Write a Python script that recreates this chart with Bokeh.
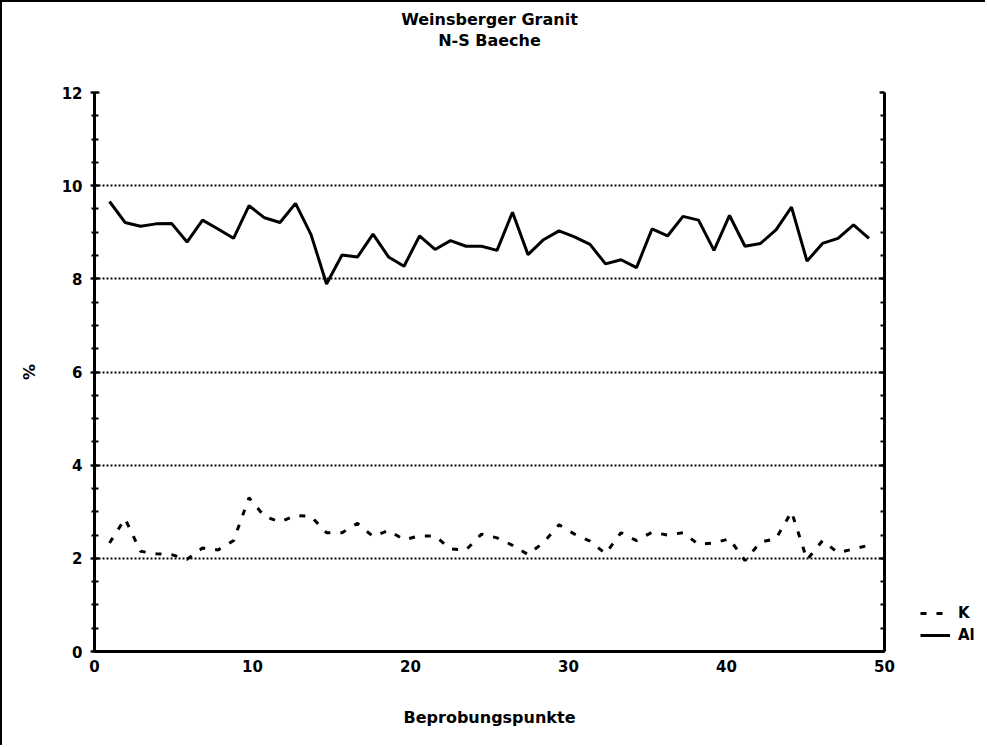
from bokeh.plotting import figure
from bokeh.layouts import row
from bokeh.models import Range1d, LinearAxis, FixedTicker, Legend, LegendItem, Title
from bokeh.embed import file_html
from bokeh.resources import INLINE

# ---- data ----
punkte = list(range(1, 51))
k_werte = [2.33, 2.85, 2.15, 2.10, 2.08, 1.98, 2.22, 2.18, 2.38, 3.30,
           2.90, 2.78, 2.92, 2.90, 2.55, 2.55, 2.75, 2.47, 2.60, 2.40,
           2.48, 2.48, 2.20, 2.18, 2.52, 2.44, 2.28, 2.08, 2.34, 2.72,
           2.52, 2.37, 2.10, 2.55, 2.38, 2.56, 2.50, 2.55, 2.30, 2.33,
           2.42, 1.95, 2.35, 2.42, 3.00, 1.97, 2.38, 2.12, 2.20, 2.28]
al_werte = [9.66, 9.21, 9.13, 9.18, 9.19, 8.79, 9.26, 9.07, 8.87, 9.57,
            9.31, 9.21, 9.62, 8.95, 7.89, 8.51, 8.47, 8.96, 8.47, 8.27,
            8.92, 8.63, 8.82, 8.70, 8.70, 8.61, 9.43, 8.52, 8.84, 9.03,
            8.90, 8.74, 8.32, 8.41, 8.24, 9.07, 8.92, 9.34, 9.26, 8.61,
            9.36, 8.70, 8.76, 9.05, 9.54, 8.38, 8.76, 8.87, 9.16, 8.87]
serien = ["K", "Al"]
x_ticks = [0, 10, 20, 30, 40, 50]
y_ticks = [0, 2, 4, 6, 8, 10, 12]
y_minor = [v / 2 for v in range(0, 25)]
grid_levels = [2, 4, 6, 8, 10]

FONT = "DejaVu Sans"
K_DASH = "6 10"

p = figure(width=897, height=745, output_backend="svg", toolbar_location=None,
           x_range=Range1d(0, 50), y_range=Range1d(0, 12),
           min_border_left=92, min_border_right=15, min_border_top=90, min_border_bottom=96,
           x_axis_label="Beprobungspunkte", y_axis_label="%")
p.extra_x_ranges = {"idx": Range1d(0.03, 51.0)}
p.outline_line_color = None
p.background_fill_color = "white"
p.border_fill_color = "white"
p.styles = {"border-top": "2px solid black", "border-left": "2px solid black"}

p.title.text = "Weinsberger Granit"
p.title.align = "center"
p.title.text_font = FONT
p.title.text_font_style = "bold"
p.title.text_font_size = "16px"
p.title.text_color = "black"
p.title.standoff = 0

spacer = Title(text=" ", text_font_size="36px", standoff=0)
sub = Title(text="N-S Baeche", align="center", text_font=FONT, text_font_style="bold",
            text_font_size="16px", text_color="black", standoff=0)
p.add_layout(spacer, "above")
p.add_layout(sub, "above")

p.xgrid.visible = False
p.ygrid.ticker = FixedTicker(ticks=grid_levels)
p.ygrid.grid_line_color = "black"
p.ygrid.grid_line_dash = "2 2"
p.ygrid.grid_line_width = 2

for ax in (p.xaxis[0], p.yaxis[0]):
    ax.axis_line_width = 3
    ax.axis_line_color = "black"
    ax.major_tick_line_width = 2
    ax.minor_tick_line_width = 2
    ax.major_label_text_font = FONT
    ax.major_label_text_font_style = "bold"
    ax.major_label_text_font_size = "15px"
    ax.major_label_text_color = "black"
    ax.axis_label_text_font = FONT
    ax.axis_label_text_font_style = "bold"
    ax.axis_label_text_font_size = "16px"
    ax.axis_label_text_color = "black"

p.xaxis.ticker = FixedTicker(ticks=x_ticks)
p.xaxis.major_tick_in = 0
p.xaxis.major_tick_out = 0
p.xaxis.major_label_standoff = 8
p.xaxis.axis_label_standoff = 33

p.yaxis.ticker = FixedTicker(ticks=y_ticks, minor_ticks=y_minor)
p.yaxis.major_tick_in = 5
p.yaxis.major_tick_out = 4
p.yaxis.minor_tick_in = 4
p.yaxis.minor_tick_out = 3
p.yaxis.major_label_standoff = 8
p.yaxis.axis_label_standoff = 20

right = LinearAxis(ticker=FixedTicker(ticks=y_ticks, minor_ticks=y_minor),
                   axis_line_width=3, major_tick_in=5, major_tick_out=0,
                   minor_tick_in=4, minor_tick_out=0, major_tick_line_width=2,
                   minor_tick_line_width=2, major_label_text_color=None,
                   major_label_text_font_size="8px", major_label_standoff=0)
p.add_layout(right, "right")

p.line(punkte, k_werte, x_range_name="idx", line_color="black",
       line_width=3, line_dash=K_DASH)
p.line(punkte, al_werte, x_range_name="idx", line_color="black", line_width=3)

# ---- legend panel to the right of the chart (series drawn out of view) ----
lg = figure(width=88, height=745, output_backend="svg", toolbar_location=None,
            x_axis_type=None, y_axis_type=None, x_range=Range1d(100, 101),
            y_range=Range1d(100, 101), min_border=0)
lg.outline_line_color = None
lg.grid.visible = False
lg.styles = {"border-top": "2px solid black"}
lk = lg.line(punkte, k_werte, line_color="black", line_width=3, line_dash=K_DASH)
la = lg.line(punkte, al_werte, line_color="black", line_width=3)
legend = Legend(items=[LegendItem(label=serien[0], renderers=[lk]),
                       LegendItem(label=serien[1], renderers=[la])],
                location=(23, 7), orientation="vertical",
                background_fill_alpha=0, border_line_color=None,
                padding=0, margin=0, spacing=4, glyph_width=30, glyph_height=16,
                label_height=16, label_standoff=8,
                label_text_font=FONT, label_text_font_style="bold",
                label_text_font_size="15px", label_text_color="black")
lg.add_layout(legend, "center")

layout = row(p, lg)
open("out.html", "w").write(file_html(layout, INLINE))
